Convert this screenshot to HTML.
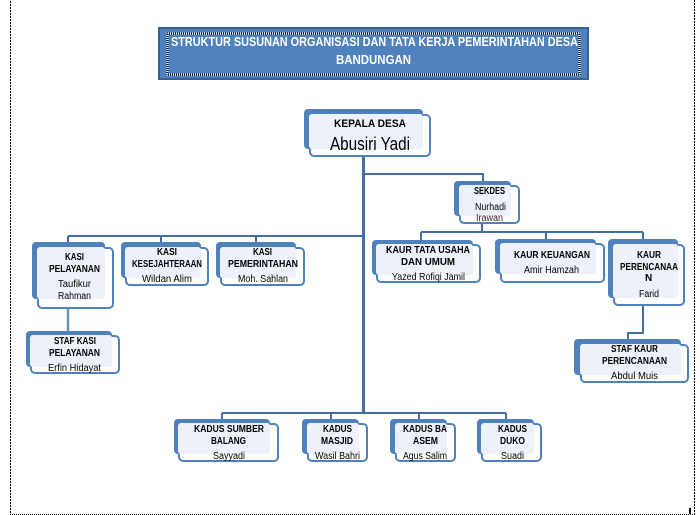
<!DOCTYPE html>
<html><head><meta charset="utf-8"><style>
html,body{margin:0;padding:0;background:#fff;width:700px;height:515px;overflow:hidden}
svg{display:block}
text{font-family:"Liberation Sans",sans-serif;font-size:10px;fill:#000;text-anchor:start}
.b{font-weight:bold;font-size:10px}
.bk{fill:#4f81bd}
.fr{fill:#fff;stroke:#4f81bd;stroke-width:2}
.lt{fill:#edf2fa}
.c{stroke:#426ea3;stroke-width:2;fill:none}
</style></head><body>
<svg width="700" height="515" viewBox="0 0 700 515" xmlns="http://www.w3.org/2000/svg">
<!-- page border -->
<g stroke="#000" stroke-width="1" fill="none" shape-rendering="crispEdges">
<path d="M10.5 1V514" stroke-dasharray="2 1"/>
<path d="M694.5 0V514" stroke-dasharray="2 1"/>
<path d="M10 514.5H695" stroke-dasharray="1 1"/>
</g>
<rect x="689" y="508" width="2" height="6" fill="#000"/>

<!-- title -->
<rect x="159" y="28" width="429" height="51" fill="#4f81bd" stroke="#3a6291" stroke-width="2"/>
<g fill="none" shape-rendering="crispEdges">
<rect x="167.5" y="33.5" width="412" height="41" stroke="#fff" stroke-width="2"/>
<rect x="167" y="33" width="413" height="42" stroke="#000" stroke-width="1" stroke-dasharray="1 1"/>
<rect x="168" y="34" width="411" height="40" stroke="#000" stroke-width="1" stroke-dasharray="1 1" stroke-dashoffset="1"/>
</g>
<text x="171" y="46" textLength="407" lengthAdjust="spacingAndGlyphs" style="font-size:13px;font-weight:bold;fill:#fff">STRUKTUR SUSUNAN ORGANISASI DAN TATA KERJA PEMERINTAHAN DESA</text>
<text x="336" y="64" textLength="75" lengthAdjust="spacingAndGlyphs" style="font-size:13px;font-weight:bold;fill:#fff">BANDUNGAN</text>

<!-- connectors -->
<g class="c">
<path d="M363.5 157V413" style="stroke-width:3"/>
<path d="M364 174H483V181"/>
<path d="M68 236H364M68 236V242M161 236V242M256 236V242"/>
<path d="M482 224V232M421 232H643M421 232V240M546 232V239M643 232V239"/>
<path d="M643 305V333H628V339"/>
<path d="M68 308V331" style="stroke-width:2.5;stroke:#6a90c0"/>
<path d="M222 413H506M222 413V419M331 413V419M419 413V419M506 413V419"/>
</g>

<!-- nodes: back, front, light -->
<g>
<rect class="bk" x="304" y="109" width="119" height="40" rx="4"/><rect class="fr" x="310" y="115" width="120" height="41" rx="4"/><rect class="lt" x="309" y="114" width="114" height="35" rx="3"/>

<rect class="bk" x="32" y="242" width="73" height="57" rx="4"/><rect class="fr" x="38" y="248" width="75" height="60" rx="4"/><rect class="lt" x="37" y="247" width="68" height="52" rx="3"/>
<rect class="bk" x="121" y="242" width="80" height="36" rx="4"/><rect class="fr" x="126" y="248" width="82" height="37" rx="4"/><rect class="lt" x="125" y="247" width="76" height="31" rx="3"/>
<rect class="bk" x="216" y="242" width="80" height="36" rx="4"/><rect class="fr" x="221" y="248" width="83" height="37" rx="4"/><rect class="lt" x="220" y="247" width="76" height="31" rx="3"/>
<rect class="bk" x="26" y="331" width="86" height="36" rx="4"/><rect class="fr" x="31" y="336" width="88" height="37" rx="4"/><rect class="lt" x="30" y="335" width="82" height="32" rx="3"/>

<rect class="bk" x="454" y="181" width="57" height="35" rx="4"/><rect class="fr" x="460" y="186" width="59" height="37" rx="4"/><rect class="lt" x="459" y="185" width="52" height="31" rx="3"/>
<rect class="bk" x="372" y="240" width="101" height="35" rx="4"/><rect class="fr" x="377" y="245" width="103" height="37" rx="4"/><rect class="lt" x="376" y="244" width="97" height="31" rx="3"/>
<rect class="bk" x="495" y="239" width="101" height="35" rx="4"/><rect class="fr" x="501" y="244" width="103" height="38" rx="4"/><rect class="lt" x="500" y="243" width="96" height="31" rx="3"/>
<rect class="bk" x="608" y="239" width="70" height="59" rx="4"/><rect class="fr" x="614" y="245" width="70" height="60" rx="4"/><rect class="lt" x="613" y="244" width="65" height="54" rx="3"/>
<rect class="bk" x="574" y="339" width="107" height="36" rx="4"/><rect class="fr" x="581" y="345" width="107" height="37" rx="4"/><rect class="lt" x="580" y="344" width="101" height="31" rx="3"/>

<rect class="bk" x="174" y="419" width="96" height="35" rx="4"/><rect class="fr" x="179" y="424" width="99" height="37" rx="4"/><rect class="lt" x="178" y="423" width="92" height="31" rx="3"/>
<rect class="bk" x="302" y="419" width="57" height="35" rx="4"/><rect class="fr" x="308" y="424" width="59" height="37" rx="4"/><rect class="lt" x="307" y="423" width="52" height="31" rx="3"/>
<rect class="bk" x="390" y="419" width="57" height="35" rx="4"/><rect class="fr" x="396" y="424" width="59" height="37" rx="4"/><rect class="lt" x="395" y="423" width="52" height="31" rx="3"/>
<rect class="bk" x="477" y="419" width="57" height="35" rx="4"/><rect class="fr" x="482" y="424" width="59" height="37" rx="4"/><rect class="lt" x="481" y="423" width="53" height="31" rx="3"/>
</g>

<!-- labels -->
<text class="b" x="334" y="127" textLength="72" lengthAdjust="spacingAndGlyphs" style="font-size:11px">KEPALA DESA</text>
<text x="330" y="150" textLength="80" lengthAdjust="spacingAndGlyphs" style="font-size:18px">Abusiri Yadi</text>

<text class="b" x="65" y="260" textLength="19" lengthAdjust="spacingAndGlyphs">KASI</text>
<text class="b" x="49" y="272" textLength="51" lengthAdjust="spacingAndGlyphs">PELAYANAN</text>
<text x="58" y="287" textLength="33" lengthAdjust="spacingAndGlyphs">Taufikur</text>
<text x="58" y="299" textLength="33" lengthAdjust="spacingAndGlyphs">Rahman</text>

<text class="b" x="157" y="255" textLength="20" lengthAdjust="spacingAndGlyphs">KASI</text>
<text class="b" x="132" y="267" textLength="70" lengthAdjust="spacingAndGlyphs">KESEJAHTERAAN</text>
<text x="142" y="282" textLength="50" lengthAdjust="spacingAndGlyphs">Wildan  Alim</text>

<text class="b" x="253" y="255" textLength="19" lengthAdjust="spacingAndGlyphs">KASI</text>
<text class="b" x="228" y="267" textLength="70" lengthAdjust="spacingAndGlyphs">PEMERINTAHAN</text>
<text x="238" y="282" textLength="50" lengthAdjust="spacingAndGlyphs">Moh. Sahlan</text>

<text class="b" x="54" y="344" textLength="42" lengthAdjust="spacingAndGlyphs">STAF KASI</text>
<text class="b" x="49" y="356" textLength="51" lengthAdjust="spacingAndGlyphs">PELAYANAN</text>
<text x="48" y="371" textLength="53" lengthAdjust="spacingAndGlyphs">Erfin  Hidayat</text>

<text class="b" x="474" y="194" textLength="31" lengthAdjust="spacingAndGlyphs">SEKDES</text>
<text x="475" y="210" textLength="31" lengthAdjust="spacingAndGlyphs">Nurhadi</text>
<text x="476" y="221" textLength="27" lengthAdjust="spacingAndGlyphs" style="fill:#3a1a20">Irawan</text>

<text class="b" x="386" y="253" textLength="84" lengthAdjust="spacingAndGlyphs">KAUR  TATA USAHA</text>
<text class="b" x="401" y="265" textLength="54" lengthAdjust="spacingAndGlyphs">DAN UMUM</text>
<text x="392" y="280" textLength="73" lengthAdjust="spacingAndGlyphs">Yazed Rofiqi  Jamil</text>

<text class="b" x="514" y="258" textLength="76" lengthAdjust="spacingAndGlyphs">KAUR KEUANGAN</text>
<text x="524" y="273" textLength="55" lengthAdjust="spacingAndGlyphs">Amir Hamzah</text>

<text class="b" x="637" y="258" textLength="24" lengthAdjust="spacingAndGlyphs">KAUR</text>
<text class="b" x="620" y="270" textLength="58" lengthAdjust="spacingAndGlyphs">PERENCANAA</text>
<text class="b" x="645" y="281">N</text>
<text x="639" y="297" textLength="20" lengthAdjust="spacingAndGlyphs">Farid</text>

<text class="b" x="611" y="352" textLength="47" lengthAdjust="spacingAndGlyphs">STAF KAUR</text>
<text class="b" x="602" y="364" textLength="65" lengthAdjust="spacingAndGlyphs">PERENCANAAN</text>
<text x="611" y="379" textLength="47" lengthAdjust="spacingAndGlyphs">Abdul  Muis</text>

<text class="b" x="194" y="432" textLength="70" lengthAdjust="spacingAndGlyphs">KADUS SUMBER</text>
<text class="b" x="211" y="444" textLength="35" lengthAdjust="spacingAndGlyphs">BALANG</text>
<text x="213" y="459" textLength="32" lengthAdjust="spacingAndGlyphs">Sayyadi</text>

<text class="b" x="323" y="432" textLength="29" lengthAdjust="spacingAndGlyphs">KADUS</text>
<text class="b" x="321" y="444" textLength="32" lengthAdjust="spacingAndGlyphs">MASJID</text>
<text x="315" y="459" textLength="45" lengthAdjust="spacingAndGlyphs">Wasil Bahri</text>

<text class="b" x="403" y="432" textLength="44" lengthAdjust="spacingAndGlyphs">KADUS BA</text>
<text class="b" x="413" y="444" textLength="25" lengthAdjust="spacingAndGlyphs">ASEM</text>
<text x="403" y="459" textLength="44" lengthAdjust="spacingAndGlyphs">Agus Salim</text>

<text class="b" x="498" y="432" textLength="29" lengthAdjust="spacingAndGlyphs">KADUS</text>
<text class="b" x="500" y="444" textLength="25" lengthAdjust="spacingAndGlyphs">DUKO</text>
<text x="501" y="459" textLength="23" lengthAdjust="spacingAndGlyphs">Suadi</text>
</svg>
</body></html>
